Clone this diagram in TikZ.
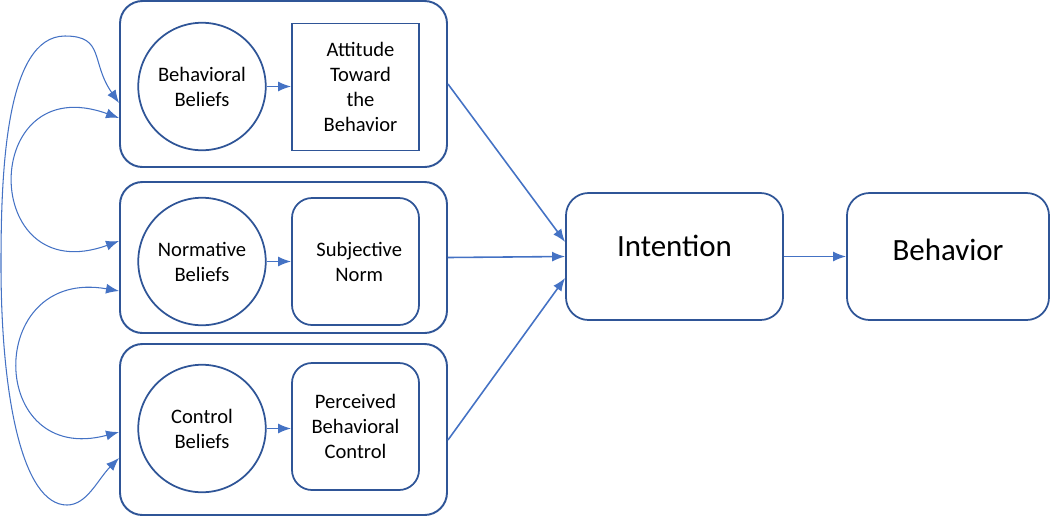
\documentclass[tikz,border=0pt]{standalone}
\usepackage{fontspec}
\setmainfont{Carlito}
\usetikzlibrary{arrows.meta}
\definecolor{boxblue}{HTML}{2F5597}
\definecolor{arrblue}{HTML}{4472C4}

\begin{document}
\begin{tikzpicture}[
    group/.style={draw=boxblue, line width=1.1pt, rounded corners=0.45cm, minimum width=6.54cm, inner sep=0pt},
    belief/.style={draw=boxblue, line width=1pt, circle, minimum size=2.55cm, inner sep=0pt, align=center, font=\fontsize{11.7}{14.2}\selectfont},
    construct/.style={draw=boxblue, line width=1pt, minimum width=2.54cm, minimum height=2.54cm, inner sep=0pt, align=center, font=\fontsize{11.7}{14.2}\selectfont},
    outcome/.style={draw=boxblue, line width=1pt, rounded corners=0.45cm, minimum height=2.54cm, inner sep=0pt},
    bigtext/.style={font=\fontsize{17.6}{21}\selectfont},
    arr/.style={draw=arrblue, line width=0.9pt, -{Latex[length=2.6mm,width=2mm]}},
    loop/.style={draw=arrblue, line width=0.6pt, {Latex[length=2.6mm,width=2mm]}-{Latex[length=2.6mm,width=2mm]}}
]
    \useasboundingbox (0,0) rectangle (21,-10.32);

    % the three groups of beliefs
    \node[group, minimum height=3.32cm] (g1) at (5.67,-1.68) {};
    \node[group, minimum height=3.02cm] (g2) at (5.67,-5.15) {};
    \node[group, minimum height=3.42cm] (g3) at (5.67,-8.59) {};

    \node[belief] (bb) at (4.04,-1.73) {Behavioral\\Beliefs};
    \node[belief] (nb) at (4.04,-5.23) {Normative\\Beliefs};
    \node[belief] (cb) at (4.04,-8.57) {Control\\Beliefs};

    \node[construct] (att) at (7.11,-1.74) {\hspace*{0.2cm}Attitude\\\hspace*{0.2cm}Toward\\\hspace*{0.2cm}the\\\hspace*{0.2cm}Behavior};
    \node[construct, rounded corners=0.4cm] (sn) at (7.11,-5.23) {\hspace*{0.15cm}Subjective\\\hspace*{0.15cm}Norm};
    \node[construct, rounded corners=0.4cm] (pbc) at (7.11,-8.53) {Perceived\\Behavioral\\Control};

    \draw[arr] (bb.east) -- (bb.east -| att.west);
    \draw[arr] (nb.east) -- (nb.east -| sn.west);
    \draw[arr] (cb.east) -- (cb.east -| pbc.west);

    % intention and behavior
    \node[outcome, minimum width=4.34cm] (int) at (13.49,-5.13) {};
    \node[bigtext] (inttext) at ([yshift=0.22cm]int.center) {Intention};
    \node[outcome, minimum width=4.04cm] (beh) at (18.96,-5.13) {};
    \node[bigtext] (behtext) at ([yshift=0.13cm]beh.center) {Behavior};

    \draw[arr] (g1.east) -- ([yshift=0.29cm]int.west);
    \draw[arr] (g2.east) -- (int.west);
    \draw[arr] ([yshift=-0.21cm]g3.east) -- ([yshift=-0.43cm]int.west);
    \draw[arr] (int.east) -- (beh.west);

    % correlations between the belief groups
    \coordinate (looptop) at (1.3,-0.72);
    \coordinate (loopleft) at (0.02,-5.3);
    \coordinate (loopbottom) at (1.34,-10.1);
    \draw[loop] ([yshift=-0.38cm]g1.west) .. controls +(125:1cm) and +(0.8,0) .. (looptop)
        .. controls +(-1.2,0) and +(0,1.8) .. (loopleft)
        .. controls +(0,-2.6) and +(-0.9,0) .. (loopbottom)
        .. controls +(0.4,0) and +(225:0.6cm) .. ([yshift=-0.57cm]g3.west);
    \draw[loop] ([yshift=-0.68cm]g1.west) .. controls +(160:2.98cm) and +(200:2.98cm) .. ([yshift=0.33cm]g2.west);
    \draw[loop] ([yshift=-0.67cm]g2.west) .. controls +(170:2.74cm) and +(195:2.74cm) .. ([yshift=-0.05cm]g3.west);
\end{tikzpicture}
\end{document}
